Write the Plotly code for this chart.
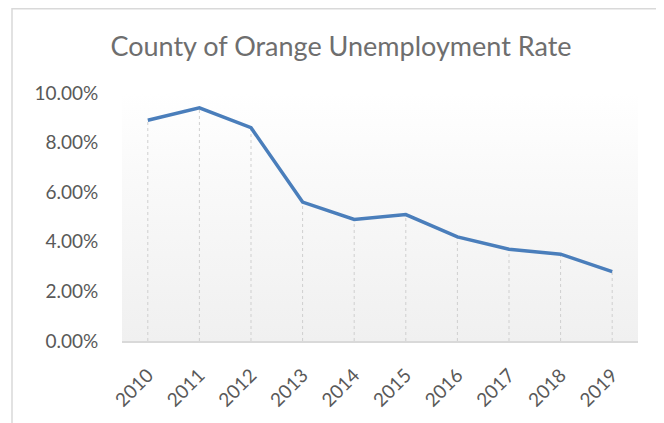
import plotly.graph_objects as go

years = ["2010", "2011", "2012", "2013", "2014", "2015", "2016", "2017", "2018", "2019"]
rate = [8.9, 9.4, 8.6, 5.6, 4.9, 5.1, 4.2, 3.7, 3.5, 2.8]
y_ticks = [0, 2, 4, 6, 8, 10]
y_labels = ["0.00%", "2.00%", "4.00%", "6.00%", "8.00%", "10.00%"]

idx = list(range(len(years)))
font_name = "Lato, Open Sans, sans-serif"

fig = go.Figure()

# gradient plot background (Excel style)
fig.add_trace(go.Scatter(
    x=[-0.5, len(years) - 0.5, len(years) - 0.5, -0.5, -0.5],
    y=[0, 0, 10, 10, 0],
    mode="none",
    fill="toself",
    fillgradient=dict(type="vertical", colorscale=[[0, "#f0f0f0"], [0.7, "#fafafa"], [1, "#ffffff"]]),
    hoverinfo="skip",
    showlegend=False,
))

# drop lines
dx, dy = [], []
for i, v in zip(idx, rate):
    dx += [i, i, None]
    dy += [0, v, None]
fig.add_trace(go.Scatter(
    x=dx, y=dy, mode="lines",
    line=dict(color="#cfcfcf", width=1, dash="dot"),
    hoverinfo="skip", showlegend=False,
))

fig.add_trace(go.Scatter(
    x=idx, y=rate, mode="lines",
    line=dict(color="#4a7ebb", width=3.5),
    showlegend=False,
))

# page has an 8px body margin, so figure coords are window coords minus 8
L, R, T, B = 114, 34, 85, 90
W, H = 664, 423
pw, ph = W - L - R, H - T - B

fig.update_layout(
    width=W, height=H,
    margin=dict(l=L, r=R, t=T, b=B),
    paper_bgcolor="white",
    plot_bgcolor="white",
    title=dict(
        text="County of Orange Unemployment Rate",
        font=dict(family=font_name, size=27, color="#6e6e6e"),
        x=(333 - L) / pw, xref="paper", xanchor="center",
        y=1 - 39 / H, yanchor="middle",
    ),
    xaxis=dict(
        range=[-0.5, len(years) - 0.5],
        tickvals=idx, ticktext=years,
        tickangle=-45,
        ticks="outside", ticklen=14, tickcolor="rgba(0,0,0,0)",
        showgrid=False, zeroline=False,
        showline=True, linecolor="#d9d9d9", linewidth=1.5,
        tickfont=dict(family=font_name, size=19, color="#595959"),
    ),
    yaxis=dict(
        range=[0, 10],
        tickvals=y_ticks, ticktext=y_labels,
        showgrid=False, zeroline=False, showline=False,
        ticks="outside", ticklen=19, tickcolor="rgba(0,0,0,0)",
        tickfont=dict(family=font_name, size=19, color="#595959"),
    ),
    shapes=[
        # chart border (top and left edges visible)
        dict(type="rect", xref="paper", yref="paper",
             x0=(4 - L) / pw, x1=(W + 5 - L) / pw,
             y0=-(H + 5 - T - ph) / ph, y1=1 + (T - 0.75) / ph,
             line=dict(color="#d9d9d9", width=1.5), fillcolor="rgba(0,0,0,0)",
             layer="below"),
    ],
)

fig.write_html("out.html")
